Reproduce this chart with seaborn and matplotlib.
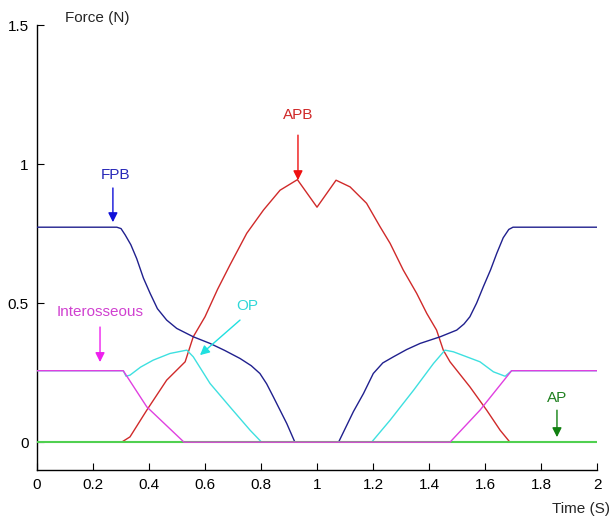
import pandas as pd
import matplotlib
matplotlib.use('Agg')
import matplotlib.pyplot as plt
import seaborn as sns

# Force traces (time in s, force in N)
fpb_t = [0, 0.285, 0.30, 0.315, 0.335, 0.356, 0.38, 0.404, 0.43, 0.463, 0.499, 0.558, 0.618, 0.67,
         0.725, 0.765, 0.796, 0.82, 0.844, 0.892, 0.921,
         1.077, 1.13, 1.166, 1.201, 1.235, 1.273, 1.32, 1.368, 1.44, 1.499, 1.525, 1.546, 1.57, 1.594,
         1.62, 1.642, 1.665, 1.685, 1.70, 2.0]
fpb_f = [0.773, 0.773, 0.768, 0.745, 0.71, 0.66, 0.59, 0.535, 0.48, 0.439, 0.409, 0.379, 0.355, 0.33,
         0.301, 0.275, 0.247, 0.21, 0.163, 0.067, 0.0,
         0.0, 0.11, 0.175, 0.247, 0.285, 0.307, 0.333, 0.355, 0.379, 0.403, 0.425, 0.451, 0.50, 0.559,
         0.62, 0.679, 0.735, 0.765, 0.773, 0.773]

apb_t = [0, 0.302, 0.332, 0.392, 0.463, 0.529, 0.558, 0.60, 0.645, 0.689, 0.749, 0.809, 0.868, 0.930,
         1.0, 1.068, 1.118, 1.177, 1.225, 1.261, 1.308, 1.356, 1.392, 1.427, 1.451, 1.475, 1.546,
         1.606, 1.654, 1.689, 2.0]
apb_f = [0.0, 0.0, 0.019, 0.115, 0.223, 0.289, 0.379, 0.451, 0.55, 0.637, 0.751, 0.835, 0.906, 0.944,
         0.845, 0.942, 0.918, 0.859, 0.775, 0.715, 0.619, 0.535, 0.463, 0.403, 0.331, 0.289, 0.199,
         0.115, 0.043, 0.0, 0.0]

inter_t = [0, 0.308, 0.392, 0.525, 1.475, 1.582, 1.695, 2.0]
inter_f = [0.257, 0.257, 0.127, 0.0, 0.0, 0.115, 0.257, 0.257]

op_t = [0, 0.308, 0.318, 0.332, 0.37, 0.415, 0.475, 0.535, 0.558, 0.618, 0.689, 0.761, 0.802,
        1.195, 1.261, 1.345, 1.416, 1.457, 1.487, 1.582, 1.63, 1.672, 1.695, 2.0]
op_f = [0.257, 0.257, 0.237, 0.241, 0.27, 0.295, 0.319, 0.331, 0.307, 0.211, 0.127, 0.043, 0.0,
        0.0, 0.079, 0.187, 0.283, 0.331, 0.325, 0.289, 0.253, 0.237, 0.257, 0.257]

ap_t = [0, 2.0]
ap_f = [0.0, 0.0]

x_ticks = [0, 0.2, 0.4, 0.6, 0.8, 1, 1.2, 1.4, 1.6, 1.8, 2]
x_tick_labels = ['0', '0.2', '0.4', '0.6', '0.8', '1', '1.2', '1.4', '1.6', '1.8', '2']
y_ticks = [0, 0.5, 1, 1.5]
y_tick_labels = ['0', '0.5', '1', '1.5']

sns.set_style('ticks')
plt.rcParams['font.family'] = ['Liberation Sans', 'DejaVu Sans']
plt.rcParams['xtick.direction'] = 'in'
plt.rcParams['ytick.direction'] = 'in'

fig = plt.figure(figsize=(6.13, 5.18), dpi=100)
ax = fig.add_axes([0.0604, 0.0927, 0.9135, 0.859])

sns.lineplot(x=apb_t, y=apb_f, ax=ax, color='#d02a2a', lw=1, sort=False, estimator=None, zorder=2)
sns.lineplot(x=fpb_t, y=fpb_f, ax=ax, color='#20208e', lw=1, sort=False, estimator=None, zorder=3)
sns.lineplot(x=op_t, y=op_f, ax=ax, color='#3ee0e0', lw=1, sort=False, estimator=None, zorder=4)
sns.lineplot(x=ap_t, y=ap_f, ax=ax, color='#50d050', lw=1.5, sort=False, estimator=None, zorder=5)
sns.lineplot(x=inter_t, y=inter_f, ax=ax, color='#e040e0', lw=1, sort=False, estimator=None, zorder=6)

# labels with arrows
def label(text, tx, ty, x0, y0, x1, y1, tcol, acol):
    ax.text(tx, ty, text, color=tcol, fontsize=11, ha='center', va='center')
    ax.annotate('', xy=(x1, y1), xytext=(x0, y0),
                arrowprops=dict(arrowstyle='-|>', color=acol, lw=1, mutation_scale=14,
                                shrinkA=0, shrinkB=0))

label('FPB', 0.279, 0.96, 0.271, 0.914, 0.271, 0.791, '#2828b8', '#1010d8')
label('APB', 0.932, 1.176, 0.932, 1.104, 0.932, 0.942, '#d02828', '#ee1010')
label('Interosseous', 0.225, 0.468, 0.225, 0.414, 0.225, 0.288, '#d040d0', '#ee20ee')
label('OP', 0.75, 0.489, 0.725, 0.439, 0.582, 0.313, '#30d8d8', '#20e0e0')
label('AP', 1.857, 0.158, 1.857, 0.115, 1.857, 0.018, '#208020', '#108010')

ax.set_xlim(0, 2)
ax.set_ylim(-0.1, 1.5)
ax.set_xticks(x_ticks)
ax.set_xticklabels(x_tick_labels)
ax.set_yticks(y_ticks)
ax.set_yticklabels(y_tick_labels)
ax.tick_params(labelsize=11, length=5, width=0.8, colors='black', pad=6)
sns.despine(ax=ax)
for s in ['left', 'bottom']:
    ax.spines[s].set_linewidth(1)
    ax.spines[s].set_color('black')
ax.set_xlabel('')
ax.set_ylabel('')

fig.text(65 / 613, 1 - 18 / 518, 'Force (N)', fontsize=11, ha='left', va='center')
fig.text(610 / 613, 1 - 509 / 518, 'Time (S)', fontsize=11, ha='right', va='center')

fig.savefig('out.png', dpi=100)
